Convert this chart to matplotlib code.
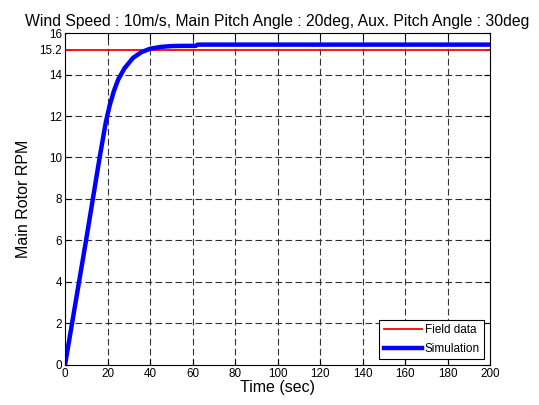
import matplotlib.pyplot as plt
import numpy as np

plt.rcParams['font.family'] = 'Liberation Sans'

# rotor speed
time_s = [0, 3.3, 6.6, 9.9, 13.1, 16.3, 19.2, 21, 23, 25, 28, 32, 36, 40,
          45, 50, 55, 61.5, 62.5, 80, 100, 130, 160, 200]
rpm_sim = [0, 2.0, 4.0, 6.0, 8.0, 10.0, 11.7, 12.5, 13.2, 13.75, 14.3, 14.8,
           15.08, 15.24, 15.33, 15.37, 15.38, 15.38, 15.44, 15.44, 15.44,
           15.44, 15.44, 15.44]
field_rpm = 15.2

x_ticks = np.arange(0, 201, 20)
y_ticks = [0, 2, 4, 6, 8, 10, 12, 14, 15.2, 16]
y_labels = ['0', '2', '4', '6', '8', '10', '12', '14', '15.2', '16']

fig = plt.figure(figsize=(5.39, 4.05), dpi=100)
ax = fig.add_axes([0.1206, 0.0988, 0.7885, 0.8197])

ax.plot([0, 200], [field_rpm, field_rpm], color='red', lw=1.3, label='Field data')
ax.plot(time_s, rpm_sim, color='blue', lw=3.2, label='Simulation')

ax.set_xlim(0, 200)
ax.set_ylim(0, 16)
ax.set_xticks(x_ticks)
ax.set_yticks(y_ticks)
ax.set_yticklabels(y_labels)
ax.tick_params(direction='in', top=True, right=True, length=4, labelsize=8.4, pad=2)

for t in x_ticks[1:-1]:
    ax.axvline(t, color='0.2', lw=0.8, ls=(0, (6, 3)), zorder=0)
for v in [2, 4, 6, 8, 10, 12, 14]:
    ax.axhline(v, color='0.2', lw=0.8, ls=(0, (6, 3)), zorder=0)

ax.set_xlabel('Time (sec)', fontsize=11.5, labelpad=0)
ax.set_ylabel('Main Rotor RPM', fontsize=11.5, labelpad=6)
ax.set_title('Wind Speed : 10m/s, Main Pitch Angle : 20deg, Aux. Pitch Angle : 30deg',
             fontsize=11.3, pad=5)

leg = ax.legend(loc='lower right', fontsize=8.5, fancybox=False, framealpha=1,
                edgecolor='black', borderpad=0.35, labelspacing=0.55,
                handlelength=3.3, handletextpad=0.2, borderaxespad=0.5)
leg.get_frame().set_linewidth(0.8)

plt.savefig('out.png', dpi=100)
